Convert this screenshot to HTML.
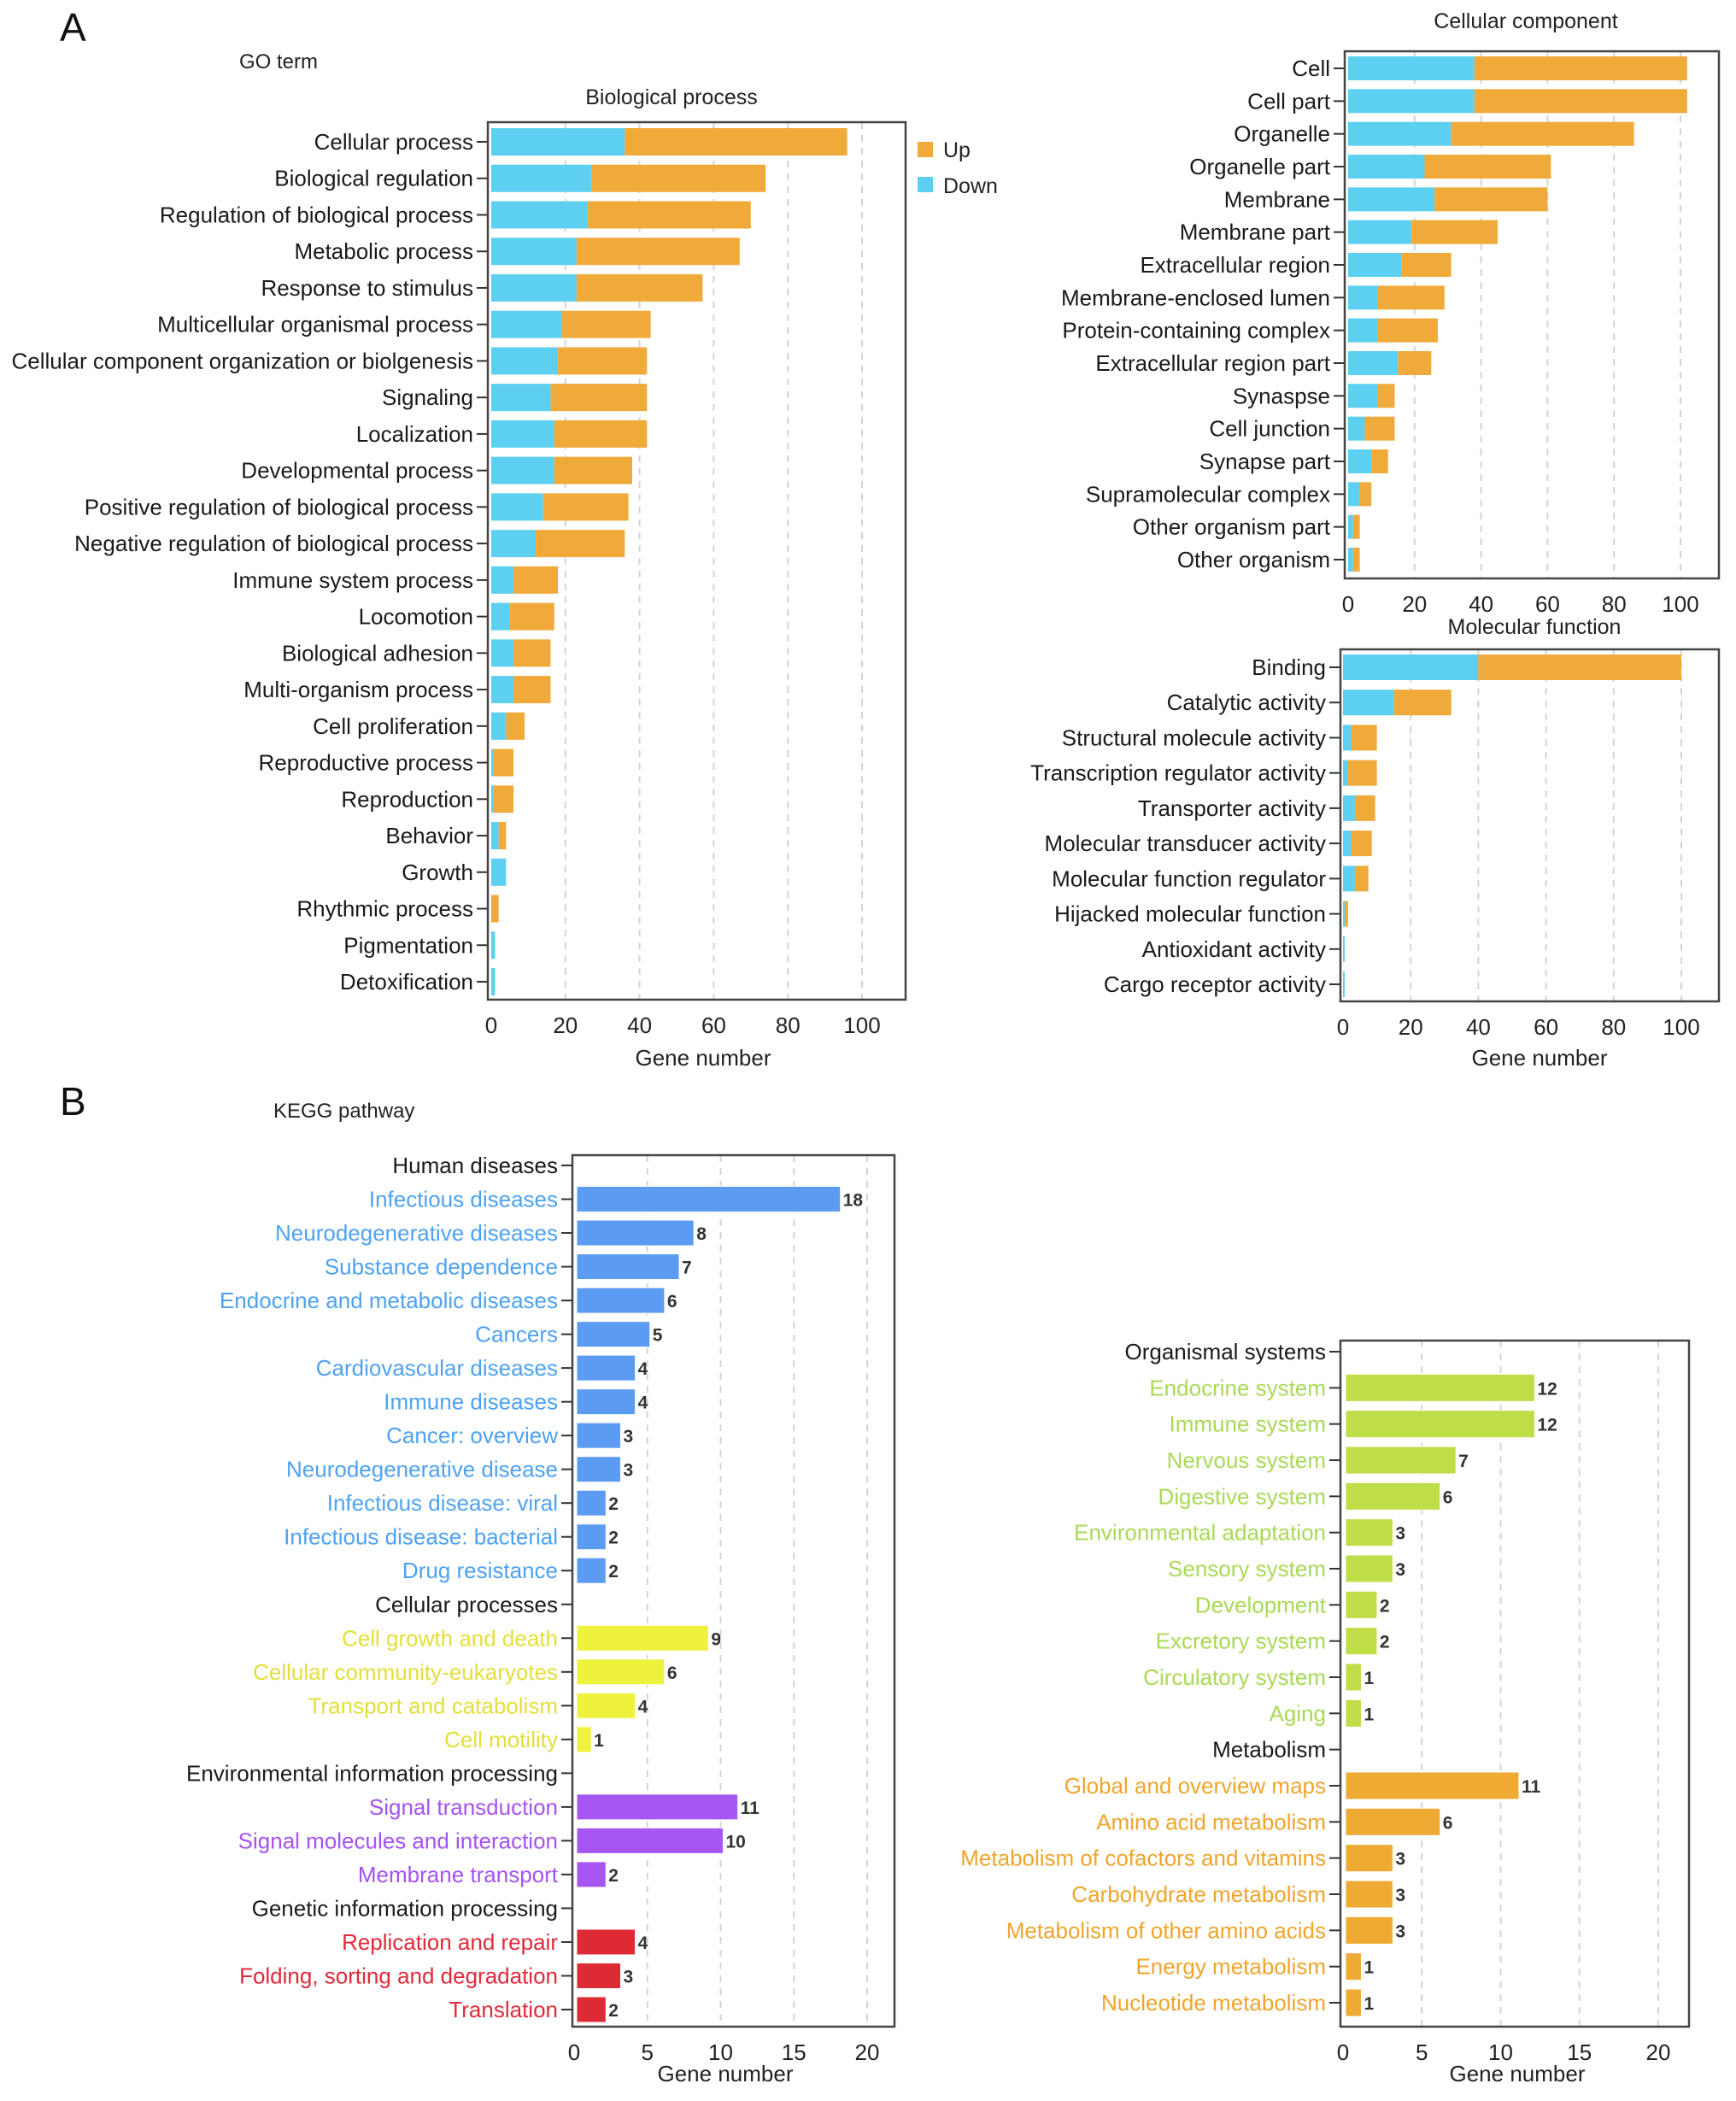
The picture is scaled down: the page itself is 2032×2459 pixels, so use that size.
<!DOCTYPE html>
<html><head><meta charset="utf-8"><style>
html,body{margin:0;padding:0;background:#fff;}
svg{display:block;font-family:"Liberation Sans",Arial,sans-serif;}
</style></head><body>
<svg id="fig" width="2032" height="2459" viewBox="0 0 2032 2459" xmlns="http://www.w3.org/2000/svg">
<text x="70" y="48" font-size="46" fill="#111">A</text>
<text x="280" y="80" font-size="24" fill="#222">GO term</text>
<text x="70" y="1305" font-size="46" fill="#111">B</text>
<text x="320" y="1308" font-size="24" fill="#222">KEGG pathway</text>
<g>
<rect x="1074" y="166" width="18" height="18" fill="#f0aa3a"/>
<text x="1104" y="184" font-size="25" fill="#222">Up</text>
<rect x="1074" y="207" width="18" height="18" fill="#5dd0f2"/>
<text x="1104" y="226" font-size="25" fill="#222">Down</text>
</g>
</svg>
<script>
// ---- Biological process ----
const bpCats=["Cellular process","Biological regulation","Regulation of biological process","Metabolic process","Response to stimulus","Multicellular organismal process","Cellular component organization or biolgenesis","Signaling","Localization","Developmental process","Positive regulation of biological process","Negative regulation of biological process","Immune system process","Locomotion","Biological adhesion","Multi-organism process","Cell proliferation","Reproductive process","Reproduction","Behavior","Growth","Rhythmic process","Pigmentation","Detoxification"];
const bpDown=[36,27,26,23,23,19,18,16,17,17,14,12,6,5,6,6,4,0.5,0.5,2,4,0,1,1];
const bpUp=[60,47,44,44,34,24,24,26,25,21,23,24,12,12,10,10,5,5.5,5.5,2,0,2,0,0];
// ---- Cellular component ----
const ccCats=["Cell","Cell part","Organelle","Organelle part","Membrane","Membrane part","Extracellular region","Membrane-enclosed lumen","Protein-containing complex","Extracellular region part","Synaspse","Cell junction","Synapse part","Supramolecular complex","Other organism part","Other organism"];
const ccDown=[38,38,31,23,26,19,16,9,9,15,9,5,7,3.5,1.5,1.5];
const ccUp=[64,64,55,38,34,26,15,20,18,10,5,9,5,3.5,2,2];
// ---- Molecular function ----
const mfCats=["Binding","Catalytic activity","Structural molecule activity","Transcription regulator activity","Transporter activity","Molecular transducer activity","Molecular function regulator","Hijacked molecular function","Antioxidant activity","Cargo receptor activity"];
const mfDown=[40,15,2.5,1.5,3.5,2.5,3.5,0.5,0.5,0.5];
const mfUp=[60,17,7.5,8.5,6,6,4,1,0,0];
const goTicks=[0,20,40,60,80,100];
// ---- KEGG left ----
const keggLCats=["Human diseases","Infectious diseases","Neurodegenerative diseases","Substance dependence","Endocrine and metabolic diseases","Cancers","Cardiovascular diseases","Immune diseases","Cancer: overview","Neurodegenerative disease","Infectious disease: viral","Infectious disease: bacterial","Drug resistance","Cellular processes","Cell growth and death","Cellular community-eukaryotes","Transport and catabolism","Cell motility","Environmental information processing","Signal transduction","Signal molecules and interaction","Membrane transport","Genetic information processing","Replication and repair","Folding, sorting and degradation","Translation"];
const keggLValues=[null,18,8,7,6,5,4,4,3,3,2,2,2,null,9,6,4,1,null,11,10,2,null,4,3,2];
const keggLGroups=["head","hd","hd","hd","hd","hd","hd","hd","hd","hd","hd","hd","hd","head","cp","cp","cp","cp","head","env","env","env","head","gen","gen","gen"];
// ---- KEGG right ----
const keggRCats=["Organismal systems","Endocrine system","Immune system","Nervous system","Digestive system","Environmental adaptation","Sensory system","Development","Excretory system","Circulatory system","Aging","Metabolism","Global and overview maps","Amino acid metabolism","Metabolism of cofactors and vitamins","Carbohydrate metabolism","Metabolism of other amino acids","Energy metabolism","Nucleotide metabolism"];
const keggRValues=[null,12,12,7,6,3,3,2,2,1,1,null,11,6,3,3,3,1,1];
const keggRGroups=["head","org","org","org","org","org","org","org","org","org","org","head","met","met","met","met","met","met","met"];
const keggTicks=[0,5,10,15,20];

const NS="http://www.w3.org/2000/svg";
const svg=document.getElementById("fig");
const barColor={hd:"#5b9cf2",cp:"#eef23c",env:"#a657f2",gen:"#dd2a35",org:"#bedd46",met:"#eeaa32"};
const labColor={head:"#1a1a1a",hd:"#4ea2f2",cp:"#e3df3a",env:"#a552f2",gen:"#e02a3a",org:"#a9da55",met:"#efa52c"};
function mk(tag,attrs,parent){const e=document.createElementNS(NS,tag);for(const k in attrs)e.setAttribute(k,attrs[k]);(parent||svg).appendChild(e);return e;}

function chart(o){
  const g=mk("g",{});
  
  
  const xs=v=>o.x0+(v-o.tmin)*(o.xMax-o.x0)/(o.tmax-o.tmin);
  const ys=i=>o.y0+i*(o.y1-o.y0)/(o.cats.length-1);
  o.ticks.forEach(t=>{ if(t===0)return;
    const l=mk("line",{x1:xs(t),x2:xs(t),y1:o.top,y2:o.bottom,stroke:"#d4d4d4","stroke-width":2,"stroke-dasharray":"8,7"},g);
    
    
  });
  o.cats.forEach((c,i)=>{
    const y=ys(i);
    if(o.down){
      const d=o.down[i],u=o.up[i];
      if(d>0){const r=mk("rect",{x:xs(0),y:y-o.bh/2,width:xs(d)-xs(0),height:o.bh,fill:"#5dd0f2"},g);
        
        }
      if(u>0){const r=mk("rect",{x:xs(d),y:y-o.bh/2,width:xs(d+u)-xs(d),height:o.bh,fill:"#f0aa3a"},g);
        
        }
    } else {
      const v=o.vals[i];
      if(v!==null){
        const gr=o.groups[i];
        const r=mk("rect",{x:xs(0)+3,y:y-o.bh/2,width:xs(v)-xs(0),height:o.bh,fill:barColor[gr],stroke:"#fff","stroke-width":1},g);
        
        
        const t=mk("text",{x:xs(v)+6,y:y+8,"font-size":21,"font-weight":"bold",fill:"#333"},g);
        t.textContent=v;
        
        
      }
    }
    const tk=mk("line",{x1:o.left-13,x2:o.left,y1:y,y2:y,stroke:"#333","stroke-width":2},g);
    
    
    const col=o.groups?labColor[o.groups[i]]:"#1a1a1a";
    const t=mk("text",{x:o.left-17,y:y+9,"font-size":o.fs,fill:col,"text-anchor":"end"},g);
    t.textContent=c;
    
    
  });
  const f=mk("rect",{x:o.left,y:o.top,width:o.right-o.left,height:o.bottom-o.top,fill:"none",stroke:"#444","stroke-width":2.5},g);
  
  
  o.ticks.forEach(t=>{
    const tx=mk("text",{x:xs(t),y:o.bottom+39,"font-size":26,fill:"#222","text-anchor":"middle"},g);
    tx.textContent=t;
    
    
  });
  if(o.xtitle){const xt=mk("text",{x:o.xtitleX,y:o.xtitleY,"font-size":26,fill:"#222","text-anchor":"middle"},g);
    xt.textContent=o.xtitle;
    
    }
  if(o.title){const tt=mk("text",{x:o.titleX,y:o.titleY,"font-size":25,fill:"#222","text-anchor":"middle"},g);
    tt.textContent=o.title;
    
    }
}

chart({name:"biological-process-chart",cats:bpCats,down:bpDown,up:bpUp,ticks:goTicks,tmin:0,tmax:100,
  x0:575,xMax:1009,y0:166,y1:1149,bh:32,left:571,right:1060,top:143,bottom:1170,fs:26,
  title:"Biological process",titleX:786,titleY:122,xtitle:"Gene number",xtitleX:823,xtitleY:1247});
chart({name:"cellular-component-chart",cats:ccCats,down:ccDown,up:ccUp,ticks:goTicks,tmin:0,tmax:100,
  x0:1578,xMax:1967,y0:80,y1:655,bh:28,left:1574,right:2012,top:60,bottom:677,fs:26,
  title:"Cellular component",titleX:1786,titleY:33});
chart({name:"molecular-function-chart",cats:mfCats,down:mfDown,up:mfUp,ticks:goTicks,tmin:0,tmax:100,
  x0:1572,xMax:1968,y0:781,y1:1152,bh:30,left:1569,right:2012,top:760,bottom:1172,fs:26,
  title:"Molecular function",titleX:1796,titleY:742,xtitle:"Gene number",xtitleX:1802,xtitleY:1247});
chart({name:"kegg-left-chart",cats:keggLCats,vals:keggLValues,groups:keggLGroups,ticks:keggTicks,tmin:0,tmax:20,
  x0:672,xMax:1015,y0:1364,y1:2352,bh:30,left:670,right:1047,top:1352,bottom:2372,fs:26,
  xtitle:"Gene number",xtitleX:849,xtitleY:2436});
chart({name:"kegg-right-chart",cats:keggRCats,vals:keggRValues,groups:keggRGroups,ticks:keggTicks,tmin:0,tmax:20,
  x0:1572,xMax:1941,y0:1582,y1:2344,bh:32,left:1569,right:1977,top:1569,bottom:2372,fs:26,
  xtitle:"Gene number",xtitleX:1776,xtitleY:2436});
</script>
</body></html>
